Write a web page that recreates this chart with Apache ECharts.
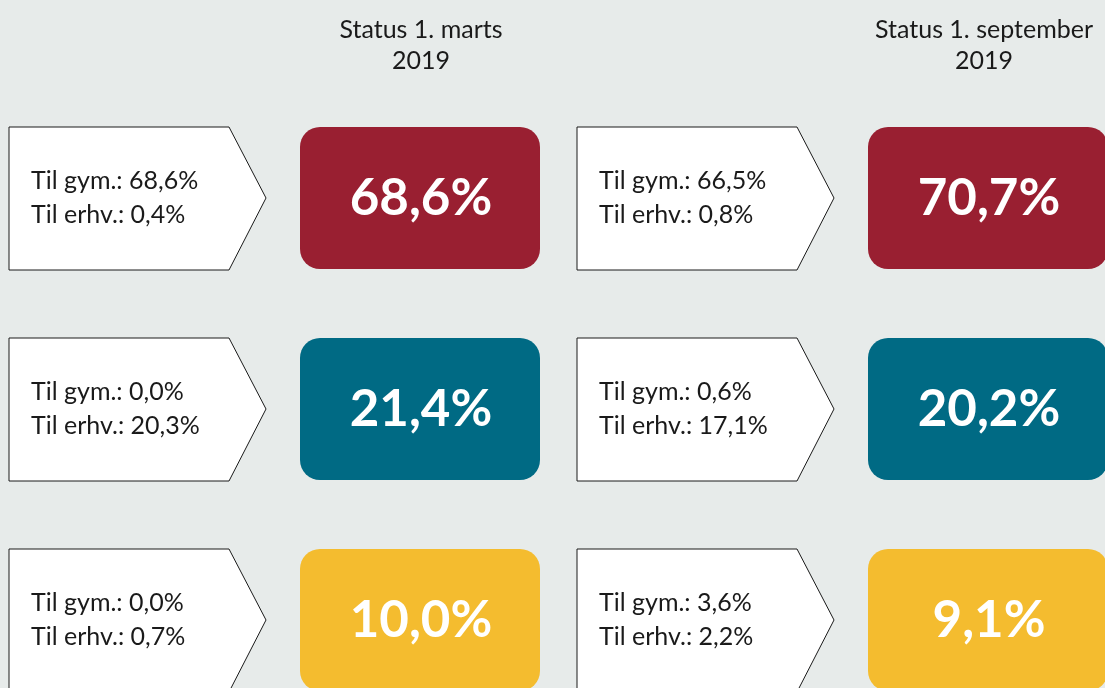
<!DOCTYPE html>
<html>
<head>
<meta charset="UTF-8">
<title>Status 2019</title>
<script src="https://cdn.jsdelivr.net/npm/echarts@6/dist/echarts.min.js"></script>
<style>
  * { margin: 0; padding: 0; }
  body { background: #e7ebea; }
  #main { width: 1105px; height: 688px; }
</style>
</head>
<body>
<div id="main"></div>
<script>
// kolonner (tidspunkter) og rækker
var periods = ['Status 1. marts\n2019', 'Status 1. september\n2019'];
var groups = ['gruppe 1', 'gruppe 2', 'gruppe 3'];

// samlet andel i hver gruppe
var totalMarts = [68.6, 21.4, 10.0];
var totalSept = [70.7, 20.2, 9.1];

// fordeling til gym. / erhv.
var gymMarts = [68.6, 0.0, 0.0];
var erhvMarts = [0.4, 20.3, 0.7];
var gymSept = [66.5, 0.6, 3.6];
var erhvSept = [0.8, 17.1, 2.2];

var groupColors = ['#991f31', '#006a84', '#f4bc2f'];

function fmt(v) {
  return v.toFixed(1).replace('.', ',') + '%';
}

var data = [];
for (var i = 0; i < groups.length; i++) {
  data.push([0, i, totalMarts[i], gymMarts[i], erhvMarts[i]]);
  data.push([1, i, totalSept[i], gymSept[i], erhvSept[i]]);
}

var chart = echarts.init(document.getElementById('main'));

chart.setOption({
  backgroundColor: '#e7ebea',
  animation: false,
  title: [0, 1].map(function (k) {
    return {
      text: periods[k],
      left: k === 0 ? 416 : 979,
      top: 9,
      textAlign: 'center',
      textStyle: {
        fontFamily: 'Lato',
        fontWeight: 'normal',
        fontSize: 25,
        lineHeight: 31,
        color: '#1a1a1a'
      }
    };
  }),
  // kolonne- og rækkecentre ligger på grid-kanterne (boundaryGap: false)
  grid: { left: 288, right: 249, top: 198, bottom: 68 },
  xAxis: {
    type: 'category',
    data: periods,
    boundaryGap: false,
    show: false
  },
  yAxis: {
    type: 'category',
    data: groups,
    inverse: true,
    boundaryGap: false,
    show: false
  },
  series: [{
    type: 'custom',
    silent: true,
    clip: false,
    data: data,
    renderItem: function (params, api) {
      var c = api.coord([api.value(0), api.value(1)]);
      var row = api.value(1);
      var cx = c[0], cy = c[1];
      var L = cx - 279;
      var T = cy - 71, B = cy + 72;
      var bx = cx + 12;
      return {
        type: 'group',
        children: [{
          type: 'polygon',
          shape: {
            points: [[L, T], [L + 220, T], [L + 257, cy], [L + 220, B], [L, B]]
          },
          style: { fill: '#ffffff', stroke: '#1a1a1a', lineWidth: 1 }
        }, {
          type: 'text',
          style: {
            x: L + 22, y: cy - 17,
            text: 'Til gym.: ' + fmt(api.value(3)),
            fontFamily: 'Lato', fontSize: 25, fill: '#1a1a1a',
            verticalAlign: 'middle', align: 'left'
          }
        }, {
          type: 'text',
          style: {
            x: L + 22, y: cy + 17,
            text: 'Til erhv.: ' + fmt(api.value(4)),
            fontFamily: 'Lato', fontSize: 25, fill: '#1a1a1a',
            verticalAlign: 'middle', align: 'left'
          }
        }, {
          type: 'rect',
          shape: { x: bx, y: T, width: 240, height: 142, r: 20 },
          style: { fill: groupColors[row] }
        }, {
          type: 'text',
          style: {
            x: bx + 121, y: cy + 1,
            text: fmt(api.value(2)),
            fontFamily: 'Lato', fontWeight: 'bold', fontSize: 51, fill: '#ffffff',
            verticalAlign: 'middle', align: 'center'
          }
        }]
      };
    }
  }]
});
</script>
</body>
</html>
